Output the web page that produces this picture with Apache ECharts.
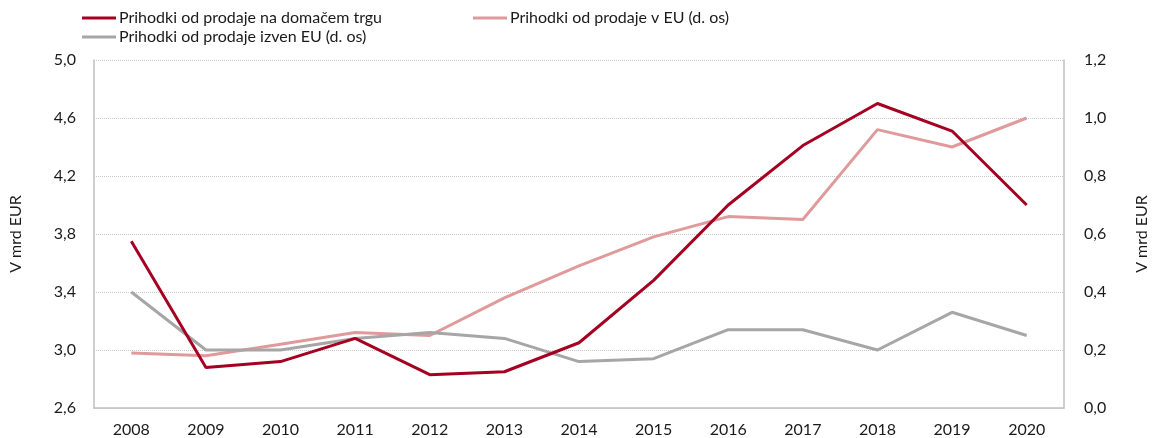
<!DOCTYPE html>
<html>
<head>
<meta charset="utf-8">
<script src="https://cdn.jsdelivr.net/npm/echarts@6/dist/echarts.min.js"></script>
<style>
  html, body { margin: 0; padding: 0; background: #fff; }
  #chart { width: 1158px; height: 438px; }
</style>
</head>
<body>
<div id="chart"></div>
<script>
var myChart = echarts.init(document.getElementById('chart'));

var years = ['2008', '2009', '2010', '2011', '2012', '2013', '2014', '2015', '2016', '2017', '2018', '2019', '2020'];
var domestic = [3.75, 2.88, 2.92, 3.08, 2.83, 2.85, 3.05, 3.48, 4.00, 4.41, 4.70, 4.51, 4.00];
var euSales = [0.19, 0.18, 0.22, 0.26, 0.25, 0.38, 0.49, 0.59, 0.66, 0.65, 0.96, 0.90, 1.00];
var outsideEu = [0.40, 0.20, 0.20, 0.24, 0.26, 0.24, 0.16, 0.17, 0.27, 0.27, 0.20, 0.33, 0.25];

var names = [
    'Prihodki od prodaje na domačem trgu',
    'Prihodki od prodaje v EU (d. os)',
    'Prihodki od prodaje izven EU (d. os)'
];
var colors = ['#a50021', '#e09a9b', '#a6a6a6'];

var fontFamily = 'Lato, sans-serif';
var axisColor = '#bfbfbf';
var textColor = '#1a1a1a';

function fmt(v) {
    return v.toFixed(1).replace('.', ',');
}

function legendAt(left, top, name) {
    return {
        left: left,
        top: top,
        data: [name],
        icon: 'rect',
        itemWidth: 34,
        itemHeight: 3,
        itemGap: 4,
        padding: 0,
        textStyle: { fontFamily: fontFamily, fontSize: 16, color: textColor, padding: [0, 0, 0, -2] }
    };
}

myChart.setOption({
    animation: false,
    backgroundColor: '#fff',
    color: colors,
    legend: [
        legendAt(82, 10, names[0]),
        legendAt(473, 10, names[1]),
        legendAt(82, 29, names[2])
    ],
    grid: {
        left: 94,
        right: 87,
        top: 60,
        bottom: 30
    },
    xAxis: {
        type: 'category',
        data: years,
        boundaryGap: true,
        axisLine: { lineStyle: { color: axisColor, width: 1.5 } },
        axisTick: { show: false },
        axisLabel: { fontFamily: fontFamily, fontSize: 16, color: textColor, margin: 14 }
    },
    yAxis: [
        {
            type: 'value',
            min: 2.6,
            max: 5.0,
            interval: 0.4,
            name: 'V mrd EUR',
            nameLocation: 'middle',
            nameRotate: 90,
            nameGap: 70,
            nameTextStyle: { fontFamily: fontFamily, fontSize: 16, color: textColor },
            axisLine: { show: true, lineStyle: { color: axisColor, width: 1.5 } },
            axisTick: { show: false },
            axisLabel: { fontFamily: fontFamily, fontSize: 16, color: textColor, margin: 18, formatter: fmt },
            splitLine: { lineStyle: { color: '#c8c8c8', type: 'dotted', width: 1 } }
        },
        {
            type: 'value',
            min: 0,
            max: 1.2,
            interval: 0.2,
            name: 'V mrd EUR',
            nameLocation: 'middle',
            nameRotate: 90,
            nameGap: 70,
            nameTextStyle: { fontFamily: fontFamily, fontSize: 16, color: textColor },
            axisLine: { show: true, lineStyle: { color: axisColor, width: 1.5 } },
            axisTick: { show: false },
            axisLabel: { fontFamily: fontFamily, fontSize: 16, color: textColor, margin: 20, formatter: fmt },
            splitLine: { show: false }
        }
    ],
    series: [
        {
            name: names[0],
            type: 'line',
            yAxisIndex: 0,
            data: domestic,
            symbol: 'none',
            lineStyle: { width: 3, color: colors[0] },
            z: 3
        },
        {
            name: names[1],
            type: 'line',
            yAxisIndex: 1,
            data: euSales,
            symbol: 'none',
            lineStyle: { width: 3, color: colors[1] },
            z: 2
        },
        {
            name: names[2],
            type: 'line',
            yAxisIndex: 1,
            data: outsideEu,
            symbol: 'none',
            lineStyle: { width: 3, color: colors[2] },
            z: 2
        }
    ]
});
</script>
</body>
</html>
